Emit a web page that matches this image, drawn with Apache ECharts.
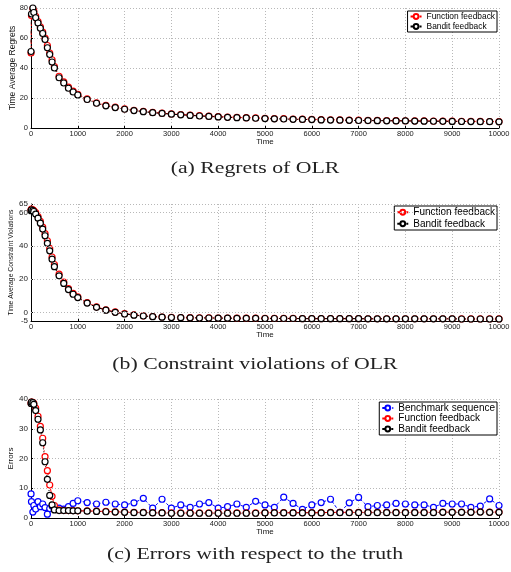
<!doctype html>
<html lang="en">
<head>
    <meta charset="UTF-8">
    <script src="https://cdn.jsdelivr.net/npm/echarts@6/dist/echarts.min.js"></script>
    <title>OLR</title>
    <style>
        html, body { margin: 0; padding: 0; background: #fff; }
    </style>
</head>
<body>
<div id="main" style="width: 511px;height:572px;"></div>
<script type="text/javascript">
    // sample times shared by all curves
    var timeSteps = [1, 10, 40, 60, 100, 150, 200, 250, 300, 350, 400, 450, 500, 600, 700, 800, 900, 1000,
        1200, 1400, 1600, 1800, 2000, 2200, 2400, 2600, 2800, 3000, 3200, 3400, 3600, 3800, 4000,
        4200, 4400, 4600, 4800, 5000, 5200, 5400, 5600, 5800, 6000, 6200, 6400, 6600, 6800, 7000,
        7200, 7400, 7600, 7800, 8000, 8200, 8400, 8600, 8800, 9000, 9200, 9400, 9600, 9800, 10000];
    var timeTicks = [0, 1000, 2000, 3000, 4000, 5000, 6000, 7000, 8000, 9000, 10000];

    // (a) regrets
    var regretFunction = [50, 75, 79.5, 78, 74.5, 71, 67.5, 64, 60, 55, 50, 45.5, 41, 34.5, 30.8, 27.2, 24.6, 22.5,
        19.4, 16.8, 15.1, 13.9, 12.8, 11.8, 11.1, 10.4, 9.9, 9.4, 9.0, 8.6, 8.2, 7.9, 7.6,
        7.3, 7.1, 6.9, 6.7, 6.5, 6.3, 6.2, 6.0, 5.9, 5.8, 5.6, 5.5, 5.4, 5.3, 5.2,
        5.1, 5.05, 5.0, 4.9, 4.85, 4.8, 4.7, 4.65, 4.6, 4.55, 4.5, 4.45, 4.4, 4.35, 4.3];
    var regretBandit = [51, 76, 80, 77, 73.5, 70, 66.5, 63, 59, 53.5, 49, 44, 40, 33.5, 30, 26.5, 24, 22,
        19, 16.5, 14.8, 13.6, 12.5, 11.6, 10.9, 10.2, 9.7, 9.2, 8.8, 8.4, 8.0, 7.7, 7.4,
        7.1, 6.9, 6.7, 6.5, 6.3, 6.1, 6.0, 5.8, 5.7, 5.6, 5.4, 5.3, 5.2, 5.1, 5.0,
        4.95, 4.9, 4.8, 4.75, 4.7, 4.6, 4.55, 4.5, 4.45, 4.4, 4.35, 4.3, 4.25, 4.2, 4.15];
    var regretTicks = [0, 20, 40, 60, 80];

    // (b) constraint violations
    var violationFunction = [61.5, 62, 61.5, 61, 59.8, 57.5, 54.6, 51.2, 47.3, 43, 38.4, 33.3, 28.8, 23, 18.3, 14.4, 11.5, 9.4,
        6.0, 3.5, 1.7, 0.4, -0.6, -1.3, -1.9, -2.3, -2.6, -2.8, -2.9, -3.0, -3.1, -3.1, -3.2,
        -3.2, -3.3, -3.3, -3.3, -3.4, -3.45, -3.45, -3.45, -3.55, -3.55, -3.55, -3.55, -3.55, -3.55, -3.55,
        -3.65, -3.65, -3.65, -3.65, -3.65, -3.65, -3.65, -3.65, -3.65, -3.65, -3.75, -3.75, -3.75, -3.75, -3.75];
    var violationBandit = [61, 61.5, 61, 60.5, 59, 56.5, 53.5, 50, 46, 41.5, 37, 32, 27.5, 22, 17.5, 13.8, 11, 9,
        5.7, 3.2, 1.5, 0.2, -0.8, -1.5, -2.0, -2.4, -2.7, -2.9, -3.0, -3.1, -3.2, -3.2, -3.3,
        -3.3, -3.4, -3.4, -3.4, -3.5, -3.5, -3.5, -3.5, -3.6, -3.6, -3.6, -3.6, -3.6, -3.6, -3.6,
        -3.7, -3.7, -3.7, -3.7, -3.7, -3.7, -3.7, -3.7, -3.7, -3.7, -3.8, -3.8, -3.8, -3.8, -3.8];
    var violationTicks = [-5, 0, 20, 40, 60, 65];
    var violationGrid = [0, 20, 40, 60, 65];

    // (c) errors
    var errorBenchmark = [8.1, 5.5, 2.0, 4.2, 3.0, 5.5, 3.8, 4.7, 3.5, 1.3, 3.2, 4.0, 3.6, 3.3, 3.0, 3.8, 4.9, 5.8,
        5.2, 4.7, 5.3, 4.7, 4.4, 5.1, 6.6, 3.3, 6.3, 3.3, 4.4, 3.6, 4.7, 5.2, 3.3,
        3.8, 4.7, 3.6, 5.6, 4.4, 3.6, 7.0, 4.9, 2.9, 4.4, 5.2, 6.3, 1.9, 5.1, 6.9,
        3.8, 4.2, 4.4, 4.9, 4.7, 4.4, 4.4, 3.6, 4.9, 4.7, 4.7, 3.6, 4.0, 6.4, 4.2];
    var errorFunction = [38.6, 39, 38.9, 38.5, 36.9, 34.2, 30.8, 26.8, 20.6, 15.9, 11.1, 7.3, 4.2, 2.7, 2.6, 2.5, 2.5, 2.4,
        2.4, 2.3, 2.2, 2.1, 2.0, 1.9, 1.9, 1.8, 1.8, 1.7, 1.7, 1.7, 1.7, 1.7, 1.7,
        1.7, 1.7, 1.7, 1.7, 1.8, 1.8, 1.8, 1.8, 1.8, 1.8, 1.8, 1.9, 1.9, 1.9, 1.9,
        1.9, 1.9, 1.9, 1.9, 1.9, 1.9, 1.9, 1.9, 2.0, 2.0, 2.0, 2.0, 2.1, 2.0, 2.0];
    var errorBandit = [38.5, 39, 38.8, 38.2, 36.1, 33.2, 29.6, 25.3, 18.9, 13, 7.6, 4.4, 2.7, 2.5, 2.5, 2.5, 2.4, 2.4,
        2.3, 2.2, 2.1, 2.0, 1.9, 1.8, 1.8, 1.7, 1.7, 1.6, 1.6, 1.6, 1.6, 1.6, 1.6,
        1.6, 1.6, 1.6, 1.6, 1.7, 1.7, 1.7, 1.7, 1.7, 1.7, 1.7, 1.8, 1.8, 1.8, 1.8,
        1.8, 1.8, 1.8, 1.8, 1.8, 1.8, 1.8, 1.8, 1.9, 1.9, 1.9, 1.9, 2.0, 1.9, 1.9];
    var errorTicks = [0, 10, 20, 30, 40];

    var captions = ['(a) Regrets of OLR', '(b) Constraint violations of OLR', '(c) Errors with respect to the truth'];

    function pairs(vals) {
        return timeSteps.map(function (t, i) { return [t, vals[i]]; });
    }

    var sans = 'Liberation Sans';
    var dotted = { color: '#b8b8b8', width: 1, type: [1, 2] };
    var gridBoxes = [
        { left: 31, right: 12, top: 8, height: 120, containLabel: false, outerBoundsMode: 'none' },
        { left: 31, right: 12, top: 204, height: 117, containLabel: false, outerBoundsMode: 'none' },
        { left: 31, right: 12, top: 399, height: 119, containLabel: false, outerBoundsMode: 'none' }
    ];

    function plain(v) { return String(v); }

    function xAxisFor(idx) {
        return {
            type: 'value', gridIndex: idx, min: 0, max: 10000, interval: 1000,
            name: 'Time', nameLocation: 'middle', nameGap: 10, nameMoveOverlap: false,
            nameTextStyle: { fontFamily: sans, fontSize: 8, color: '#111' },
            axisLine: { onZero: false, lineStyle: { color: '#000', width: 1 } },
            axisTick: { inside: true, length: 2, lineStyle: { color: '#000' } },
            axisLabel: { fontFamily: sans, fontSize: 7.5, color: '#222', margin: 2,
                customValues: timeTicks, formatter: plain },
            splitLine: { show: true, lineStyle: dotted }
        };
    }

    function lineSeries(name, color, dash, xi, vals) {
        return {
            name: name, type: 'line', xAxisIndex: xi, yAxisIndex: xi,
            data: pairs(vals),
            symbol: 'circle', symbolSize: 6,
            showAllSymbol: true,
            itemStyle: { color: '#fff', borderColor: color, borderWidth: 1.2 },
            lineStyle: { color: color, width: 1, type: dash },
            emphasis: { disabled: true },
            animation: false
        };
    }

    var legendBase = {
        orient: 'vertical', right: 14, selectedMode: false,
        itemWidth: 11, itemHeight: 6,
        borderColor: '#000', borderWidth: 1, borderRadius: 0, backgroundColor: '#fff'
    };

    var myChart = echarts.init(document.getElementById('main'));

    var option = {
        backgroundColor: '#fff',
        animation: false,
        grid: gridBoxes,
        xAxis: [xAxisFor(0), xAxisFor(1), xAxisFor(2)],
        yAxis: [
            {
                type: 'value', gridIndex: 0, min: 0, max: 80, interval: 20,
                name: 'Time Average Regrets', nameLocation: 'middle', nameGap: 14, nameMoveOverlap: false,
                nameTextStyle: { fontFamily: sans, fontSize: 8.5, color: '#111' },
                axisLine: { show: true, onZero: false, lineStyle: { color: '#000' } },
                axisTick: { inside: true, length: 2, lineStyle: { color: '#000' } },
                axisLabel: { fontFamily: sans, fontSize: 7.5, color: '#222', margin: 3, customValues: regretTicks, formatter: plain },
                splitLine: { show: true, lineStyle: dotted }
            },
            {
                type: 'value', gridIndex: 1, min: -5, max: 65,
                name: 'Time Average Constraint Violations', nameLocation: 'middle', nameGap: 16, nameMoveOverlap: false,
                nameTextStyle: { fontFamily: sans, fontSize: 6.8, color: '#111' },
                axisLine: { show: true, onZero: false, lineStyle: { color: '#000' } },
                axisTick: { inside: true, length: 2, lineStyle: { color: '#000' }, customValues: violationTicks },
                axisLabel: { fontFamily: sans, fontSize: 8, color: '#222', margin: 3, customValues: violationTicks, formatter: plain },
                splitLine: { show: false }
            },
            {
                type: 'value', gridIndex: 2, min: 0, max: 40, interval: 10,
                name: 'Errors', nameLocation: 'middle', nameGap: 16, nameMoveOverlap: false,
                nameTextStyle: { fontFamily: sans, fontSize: 8, color: '#111' },
                axisLine: { show: true, onZero: false, lineStyle: { color: '#000' } },
                axisTick: { inside: true, length: 2, lineStyle: { color: '#000' } },
                axisLabel: { fontFamily: sans, fontSize: 8, color: '#222', margin: 3, customValues: errorTicks, formatter: plain },
                splitLine: { show: true, lineStyle: dotted }
            }
        ],
        legend: [
            Object.assign({}, legendBase, {
                top: 11, padding: [1, 2, 1, 2], itemGap: 1,
                data: ['Function feedback', 'Bandit feedback'],
                textStyle: { fontFamily: sans, fontSize: 8.4, lineHeight: 9, color: '#000' }
            }),
            Object.assign({}, legendBase, {
                top: 206, padding: [1, 2, 1, 2], itemGap: 1,
                data: ['Function feedback', 'Bandit feedback'],
                textStyle: { fontFamily: sans, fontSize: 10, lineHeight: 10.5, color: '#000' }
            }),
            Object.assign({}, legendBase, {
                top: 402, padding: [1, 2, 1, 2], itemGap: 0.5,
                data: ['Benchmark sequence', 'Function feedback', 'Bandit feedback'],
                textStyle: { fontFamily: sans, fontSize: 10, lineHeight: 9.5, color: '#000' }
            })
        ],
        series: [
            lineSeries('Function feedback', '#ff0000', [4, 2, 1, 2], 0, regretFunction),
            lineSeries('Bandit feedback', '#000000', [4, 2, 1, 2], 0, regretBandit),
            Object.assign(lineSeries('Function feedback', '#ff0000', [4, 2, 1, 2], 1, violationFunction), {
                markLine: {
                    silent: true, symbol: 'none', label: { show: false },
                    lineStyle: dotted, animation: false,
                    data: violationGrid.map(function (v) { return { yAxis: v }; })
                }
            }),
            lineSeries('Bandit feedback', '#000000', [4, 2, 1, 2], 1, violationBandit),
            lineSeries('Benchmark sequence', '#0000ff', [3, 2], 2, errorBenchmark),
            lineSeries('Function feedback', '#ff0000', [4, 2, 1, 2], 2, errorFunction),
            lineSeries('Bandit feedback', '#000000', [1, 2], 2, errorBandit)
        ],
        graphic: [
            { type: 'text', x: 255, y: 169, scaleX: 1.28,
              style: { text: captions[0], font: '17px "Liberation Serif"', fill: '#222', textAlign: 'center', textVerticalAlign: 'middle' } },
            { type: 'text', x: 255, y: 365, scaleX: 1.28,
              style: { text: captions[1], font: '17px "Liberation Serif"', fill: '#222', textAlign: 'center', textVerticalAlign: 'middle' } },
            { type: 'text', x: 255, y: 555, scaleX: 1.28,
              style: { text: captions[2], font: '17px "Liberation Serif"', fill: '#222', textAlign: 'center', textVerticalAlign: 'middle' } }
        ]
    };

    myChart.setOption(option);
</script>
</body>
</html>
